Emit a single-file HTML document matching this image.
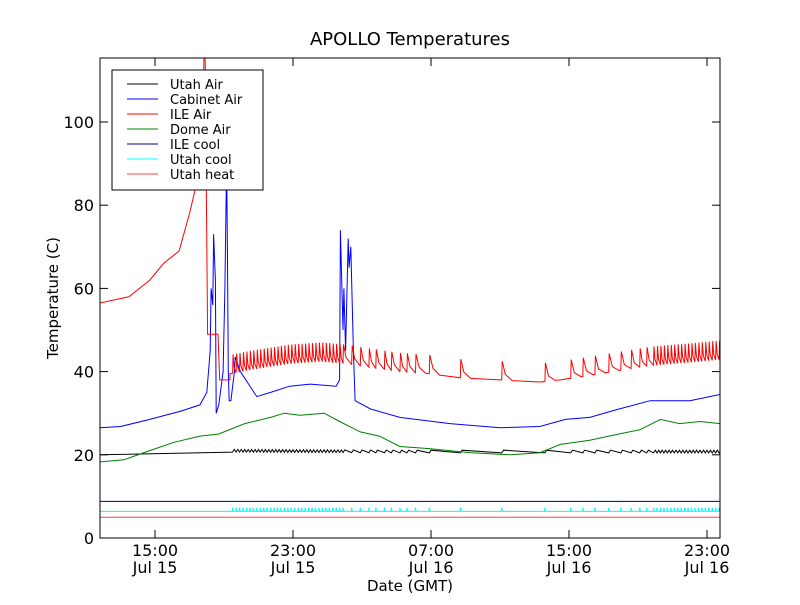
<!DOCTYPE html>
<html><head><meta charset="utf-8"><style>
body{margin:0;background:#fff}
svg text{font-family:"DejaVu Sans","Liberation Sans",sans-serif}
</style></head><body>
<svg id="chart" width="800" height="600" xmlns="http://www.w3.org/2000/svg">
<rect width="800" height="600" fill="#fff"/>
<text x="410" y="45" font-size="18" text-anchor="middle">APOLLO Temperatures</text>
<text x="410" y="591" font-size="15" text-anchor="middle">Date (GMT)</text>
<text x="58" y="298" font-size="15" text-anchor="middle" transform="rotate(-90 58 298)">Temperature (C)</text>
<defs><clipPath id="pc"><rect x="100" y="58" width="620" height="480"/></clipPath></defs>
<g id="series" clip-path="url(#pc)"></g>
<g id="axes"></g>
</svg>
<script>
const xTickHours=[15,23,31,39,47];
const xTickLabels=[["15:00","Jul 15"],["23:00","Jul 15"],["07:00","Jul 16"],["15:00","Jul 16"],["23:00","Jul 16"]];
const yTicks=[0,20,40,60,80,100];
const utahAir=[[11.8,20],[14.7,19.8],[17.6,20.5],[19.3,21],[30,20.8],[47.75,20.8]];
const cabinetAir=[[11.8,26.5],[13,26.8],[14.7,28.5],[16.5,30.5],[17.6,32],[18,35],[18.2,45],[18.25,60],[18.35,56],[18.4,73],[18.5,62],[18.55,30],[18.7,32],[18.95,40],[19.05,60],[19.15,90],[19.2,70],[19.25,40],[19.3,33],[19.4,33],[19.6,40],[19.65,43.5],[19.95,40],[20.9,34],[21.7,35],[22.8,36.5],[24,37],[25.5,36.5],[25.7,38],[25.75,74],[25.9,50],[25.95,60],[26.05,45],[26.2,72],[26.25,65],[26.35,70],[26.5,45],[26.6,33],[27.5,31],[29.2,29],[32.1,27.5],[35,26.5],[37.3,26.8],[38.8,28.5],[40.2,29],[41.9,31],[43.7,33],[46,33],[47.75,34.5]];
const domeAir=[[11.8,18.3],[13.2,18.8],[14.7,21],[16.1,23],[17.6,24.5],[18.7,25],[20.2,27.5],[21.7,29],[22.5,30],[23.4,29.5],[24.8,30],[25.7,28],[26.9,25.5],[28,24.5],[29.2,22],[30.9,21.5],[33.3,20.5],[35.6,20],[37.3,20.5],[38.5,22.5],[40.2,23.5],[41.9,25],[43.1,26],[44.3,28.5],[45.4,27.5],[46.6,28],[47.75,27.5]];
const ileAirBase=[[11.8,56.5],[13.5,58],[14.7,62],[15.5,66],[16.4,69],[17,78],[17.4,85],[17.75,92],[17.85,120],[17.9,120],[18.05,49],[18.65,49],[18.75,38],[19.35,38],[19.35,39.5],[20.5,40.5],[22.8,42],[24.6,42.5],[26,42],[27.5,41],[29.2,40],[30.9,39.5],[32.7,38.5],[35,38],[37.3,37.5],[38.5,38],[40.8,39.5],[43.7,41.5],[46.6,42.5],[47.75,43]];
const ileAirSpikes=[19.5,19.7,19.9,20.1,20.3,20.5,20.7,20.9,21.1,21.3,21.5,21.7,21.9,22.1,22.3,22.5,22.7,22.9,23.1,23.3,23.5,23.7,23.9,24.1,24.3,24.5,24.7,24.9,25.1,25.3,25.5,25.7,25.9,26.4,26.9,27.4,27.8,28.3,28.7,29.2,29.6,30.1,30.9,32.7,35.1,37.6,39.1,39.8,40.5,41.3,42,42.6,43.1,43.5,43.9,44.1,44.3,44.5,44.7,44.9,45.1,45.3,45.5,45.7,45.9,46.1,46.3,46.5,46.7,46.9,47.1,47.3,47.5,47.7];
const spikeAmp=4.5;
const ileCool=[[11.8,8.8],[47.75,8.8]];
const utahCoolBase=6.4;
const utahHeat=[[11.8,5],[47.75,5]];
const series=[
 {name:"Utah Air",color:"#000"},{name:"Cabinet Air",color:"#0000ff"},{name:"ILE Air",color:"#ff0000"},
 {name:"Dome Air",color:"#008000"},{name:"ILE cool",color:"#000080"},{name:"Utah cool",color:"#00ffff"},{name:"Utah heat",color:"#ff4040"}];
const X=h=>155+(h-15)*17.25, Y=v=>538-v*4.16;
const NS="http://www.w3.org/2000/svg";
const sg=document.getElementById('series'), ag=document.getElementById('axes');
function mk(t,a,p){const e=document.createElementNS(NS,t);for(const k in a)e.setAttribute(k,a[k]);p.appendChild(e);return e;}
function interp(arr,h){for(let i=1;i<arr.length;i++){if(h<=arr[i][0]){const a=arr[i-1],b=arr[i];const f=b[0]===a[0]?1:(h-a[0])/(b[0]-a[0]);return a[1]+f*(b[1]-a[1]);}}return arr[arr.length-1][1];}
function line(pts,color,name){const p=mk('polyline',{points:pts.map(q=>X(q[0]).toFixed(1)+','+Y(q[1]).toFixed(1)).join(' '),fill:'none',stroke:color,'stroke-width':1},sg);

}
line(ileCool,'#000080','ile-cool-line');
line(utahHeat,'#ff4040','utah-heat-line');
let uc=[[11.8,utahCoolBase]];
ileAirSpikes.forEach(t=>{uc.push([t-0.02,utahCoolBase],[t,utahCoolBase+0.9],[t+0.04,utahCoolBase]);});
uc.push([47.75,utahCoolBase]);
line(uc,'#00ffff','utah-cool-line');
let ua=[];
ua.push([11.8,interp(utahAir,11.8)]);
ileAirSpikes.forEach(t=>{const b=interp(utahAir,t);ua.push([t,b-0.35],[t+0.1,b+0.3]);});
ua.push([47.75,interp(utahAir,47.75)]);
line(ua,'#000','utah-air-line');
line(domeAir,'#008000','dome-air-line');
line(cabinetAir,'#0000ff','cabinet-air-line');
let ia=[];
const first=ileAirSpikes[0];
ileAirBase.forEach(q=>{if(q[0]<first)ia.push(q);});
for(let i=0;i<ileAirSpikes.length;i++){const t=ileAirSpikes[i];const next=i+1<ileAirSpikes.length?ileAirSpikes[i+1]:47.8;
 const b=interp(ileAirBase,t);ia.push([t,b],[t+0.03,b+spikeAmp]);
 const d=Math.min(next-t-0.01,0.6);ia.push([t+0.03+d*0.3,b+spikeAmp*0.3],[t+d,interp(ileAirBase,t+d)]);
 if(next-t>0.7){ileAirBase.forEach(q=>{if(q[0]>t+d&&q[0]<next)ia.push(q);});}}
line(ia,'#ff0000','ile-air-line');
mk('rect',{x:100,y:58,width:620,height:480,fill:'none',stroke:'#000','stroke-width':1,},ag);
yTicks.forEach(v=>{const y=Y(v);
 mk('line',{x1:100,x2:108,y1:y,y2:y,stroke:'#000'},ag);mk('line',{x1:712,x2:720,y1:y,y2:y,stroke:'#000'},ag);
 const t=mk('text',{x:94,y:y+6,'font-size':16,'text-anchor':'end'},ag);t.textContent=v;
 
 });
xTickHours.forEach((h,i)=>{const x=X(h);
 mk('line',{x1:x,x2:x,y1:538,y2:530,stroke:'#000'},ag);mk('line',{x1:x,x2:x,y1:58,y2:66,stroke:'#000'},ag);
 const t=mk('text',{x:x,y:556,'font-size':16,'text-anchor':'middle'},ag);t.textContent=xTickLabels[i][0];
 
 
 const t2=mk('text',{x:x,y:573,'font-size':16,'text-anchor':'middle'},ag);t2.textContent=xTickLabels[i][1];
 
 });
const lg=mk('g',{},ag);


mk('rect',{x:112,y:70,width:151,height:120,fill:'#fff',stroke:'#000','stroke-width':1},lg);
series.forEach((s,i)=>{const y=84+i*15;
 const e=mk('g',{},lg);
 
 
 mk('line',{x1:127,x2:158,y1:y,y2:y,stroke:s.color,'stroke-width':1},e);
 const t=mk('text',{x:170,y:y+5,'font-size':13},e);t.textContent=s.name;});
</script>
</body></html>
